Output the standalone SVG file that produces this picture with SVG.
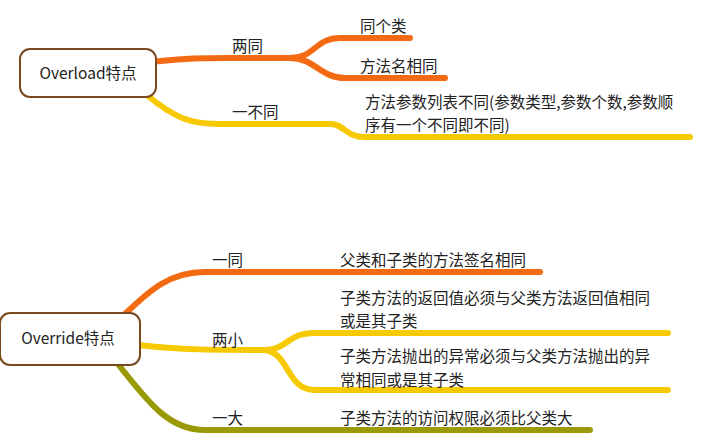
<svg xmlns="http://www.w3.org/2000/svg" width="702" height="444" viewBox="0 0 702 444">
<style>
text{font-family:"Noto Sans CJK SC","Liberation Sans",sans-serif;font-size:15.5px;fill:#222}
.c{fill:none;stroke-linecap:round;stroke-linejoin:round;stroke-width:6}
.o{stroke:#f46a12}.y{stroke:#f7c900}.g{stroke:#9a9a06}
.n{fill:#fff;stroke:#7a4a1e;stroke-width:2}
</style>
<g id="connectors">
<path class="c o" d="M150,62 C190,58 200,58 230,58 L290,58 C315,58 315,38 340,38 L410,38"/>
<path class="c o" d="M290,58 C315,58 320,78 345,78 L445,78"/>
<path class="c y" d="M148,96 C175,118 190,124 220,124 L330,124 C345,124 345,137 365,137 L690,137"/>
<path class="c o" d="M125,314 C150,290 170,272 205,272 L540,272"/>
<path class="c y" d="M138,345 C180,350 220,350 262,350 C290,350 285,333 315,333 L668,333"/>
<path class="c y" d="M262,350 C290,350 285,390 315,390 L668,390"/>
<path class="c g" d="M118,364 C150,405 170,430 205,430 L590,430"/>
</g>
<g id="overload"><rect class="n" x="20" y="49" width="136" height="48" rx="10"/><text x="88" y="79" text-anchor="middle">Overload特点</text></g>
<g id="override"><rect class="n" x="0" y="313" width="140" height="52" rx="10"/><text x="68" y="344" text-anchor="middle">Override特点</text></g>
<g id="labels">
<text x="232" y="52">两同</text>
<text x="360" y="32">同个类</text>
<text x="360" y="72">方法名相同</text>
<text x="232" y="118">一不同</text>
<text x="365" y="108">方法参数列表不同(参数类型,参数个数,参数顺</text>
<text x="365" y="131">序有一个不同即不同)</text>
<text x="212" y="266">一同</text>
<text x="340" y="266">父类和子类的方法签名相同</text>
<text x="212" y="346">两小</text>
<text x="340" y="304">子类方法的返回值必须与父类方法返回值相同</text>
<text x="340" y="327">或是其子类</text>
<text x="340" y="362">子类方法抛出的异常必须与父类方法抛出的异</text>
<text x="340" y="386">常相同或是其子类</text>
<text x="212" y="424">一大</text>
<text x="340" y="424">子类方法的访问权限必须比父类大</text>
</g>
</svg>
